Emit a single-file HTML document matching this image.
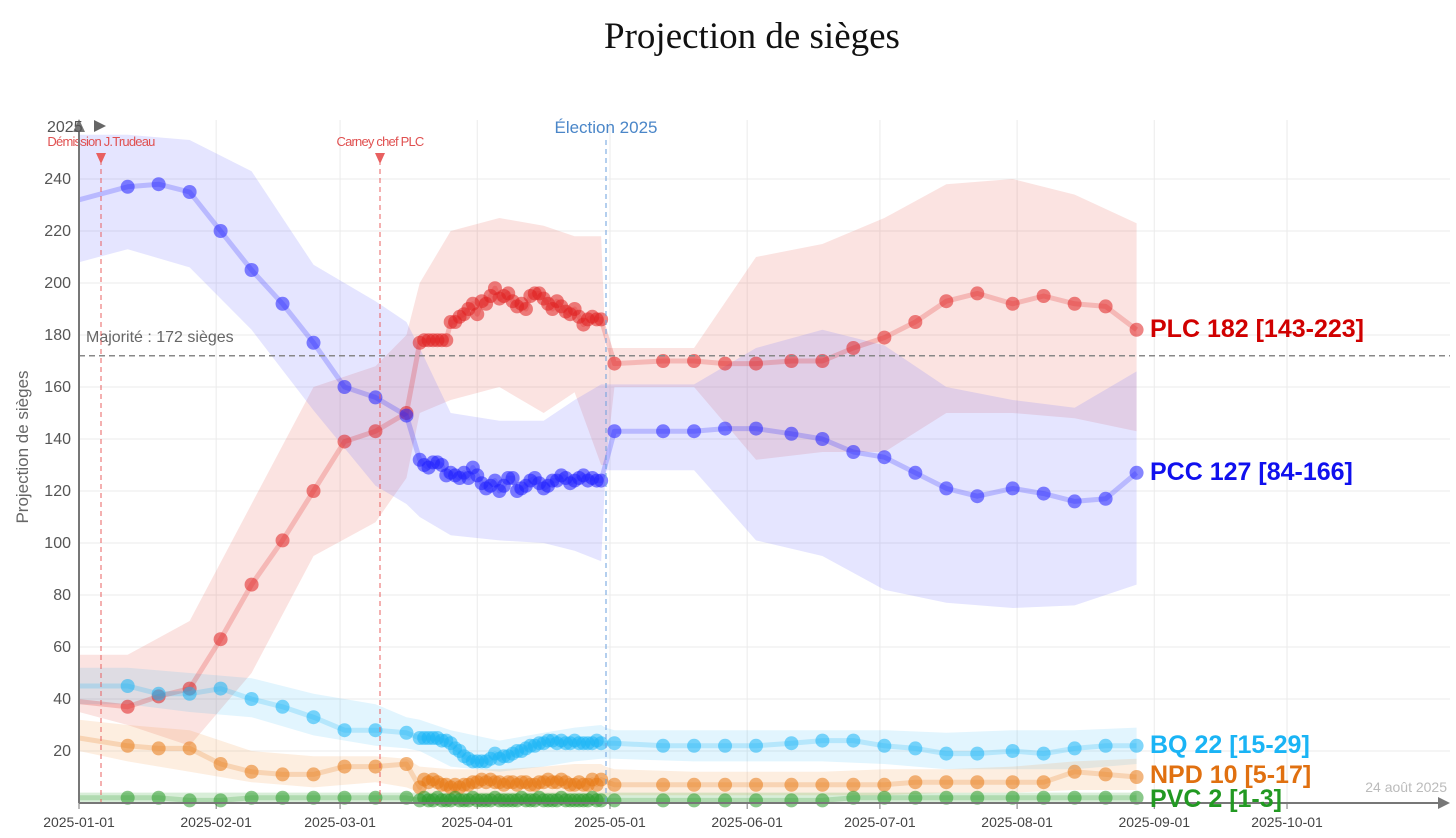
<!DOCTYPE html>
<html><head><meta charset="utf-8">
<style>
body{margin:0;background:#fff;}
svg{display:block;font-family:"Liberation Sans",Arial,sans-serif;}
</style></head>
<body>
<svg id="chart" width="1456" height="838"></svg>
<script>
const preDays=[0,11,18,25,32,39,46,53,60,67,74];
const postDays=[121,132,139,146,153,161,168,175,182,189,196,203,211,218,225,232,239];
const plcPre=[39,37,41,44,63,84,101,120,139,143,150];
const plcDense=[177,178,178,178,178,178,178,185,185,187,188,190,192,188,193,192,195,198,194,195,196,193,191,192,190,195,196,196,194,192,190,193,191,189,188,190,187,184,186,187,186,186];
const plcPost=[169,170,170,169,169,170,170,175,179,185,193,196,192,195,192,191,182];
const pccPre=[232,237,238,235,220,205,192,177,160,156,149];
const pccDense=[132,130,129,131,131,130,126,127,126,125,127,125,129,126,123,121,122,124,120,122,125,125,120,121,122,124,125,123,121,122,124,124,126,125,123,124,125,126,124,125,124,124];
const pccPost=[143,143,143,144,144,142,140,135,133,127,121,118,121,119,116,117,127];
const bqPre=[45,45,42,42,44,40,37,33,28,28,27];
const bqDense=[25,25,25,25,25,24,24,23,21,20,18,17,16,16,16,16,17,19,17,18,18,19,20,20,21,22,22,23,23,24,24,23,24,23,23,24,23,23,23,23,24,23];
const bqPost=[23,22,22,22,22,23,24,24,22,21,19,19,20,19,21,22,22];
const npdPre=[25,22,21,21,15,12,11,11,14,14,15];
const npdDense=[6,9,8,9,8,7,7,6,7,6,7,7,8,8,9,8,9,8,8,7,8,8,7,8,8,7,7,8,8,9,8,8,9,8,7,7,8,7,7,9,7,9];
const npdPost=[7,7,7,7,7,7,7,7,7,8,8,8,8,8,12,11,10];
const pvcPre=[2,2,2,1,1,2,2,2,2,2,2];
const pvcDense=[1,2,1,1,2,1,1,1,2,1,1,1,2,1,1,1,1,2,1,1,1,1,1,2,1,1,1,2,1,1,1,1,2,1,1,1,1,1,1,2,1,1];
const pvcPost=[1,1,1,1,1,1,1,2,2,2,2,2,2,2,2,2,2];
const bandDays=[0,11,25,39,53,67,74,77,84,95,105,112,118,119,121,139,153,168,182,196,211,225,239];
const plcHi=[57,57,70,115,160,168,180,200,220,225,222,218,218,175,175,175,210,215,225,238,240,234,223];
const plcLo=[35,30,22,50,95,108,125,150,155,160,150,158,130,130,160,160,132,135,135,150,150,148,143];
const pccHi=[257,257,255,243,207,193,185,175,150,147,147,155,161,161,161,161,175,182,176,160,155,152,166];
const pccLo=[208,213,206,182,151,122,115,110,103,101,100,97,93,128,128,128,101,95,82,77,75,76,84];
const bqHi=[52,52,50,48,42,38,33,32,28,24,27,29,30,29,28,28,28,28,28,27,28,28,29];
const bqLo=[38,38,35,33,26,22,21,20,14,12,14,16,17,17,17,16,16,16,15,13,13,13,15];
const npdHi=[32,30,28,20,18,18,17,14,13,13,14,15,15,14,13,12,12,12,13,13,14,16,17];
const npdLo=[20,16,12,8,6,8,6,4,3,3,3,3,3,3,3,3,3,3,3,4,4,5,5];
const pvcHi=[4,4,4,4,4,4,4,4,4,4,4,4,4,4,4,4,4,4,4,4,4,4,4];
const pvcLo=[0,0,0,0,0,0,0,0,0,0,0,0,0,0,0,0,0,0,0,0,0,0,0];
const yTicks=[20,40,60,80,100,120,140,160,180,200,220,240];
const xTickDays=[0,31,59,90,120,151,181,212,243,273];
const xTickLabels=["2025-01-01","2025-02-01","2025-03-01","2025-04-01","2025-05-01","2025-06-01","2025-07-01","2025-08-01","2025-09-01","2025-10-01"];

const X=d=>79+d*4.425;
const Y=v=>803-v*2.6;
const NS="http://www.w3.org/2000/svg";
const svg=document.getElementById('chart');
function mk(tag,attrs,parent){const e=document.createElementNS(NS,tag);for(const k in attrs)e.setAttribute(k,attrs[k]);(parent||svg).appendChild(e);return e;}
const denseDays=plcDense.map((_,i)=>77+i);
const allDays=preDays.concat(denseDays,postDays);

// grid
yTicks.forEach(v=>{
  const l=mk('line',{x1:79,x2:1450,y1:Y(v),y2:Y(v),stroke:'#ebebeb','stroke-width':1});
  
  
  const t=mk('text',{x:71,y:Y(v)+5,'text-anchor':'end','font-size':16,fill:'#555'});
  t.textContent=v;
  
  
});
xTickDays.forEach((d,i)=>{
  const l=mk('line',{x1:X(d),x2:X(d),y1:120,y2:803,stroke:'#ebebeb','stroke-width':1});
  
  
  const tk=mk('line',{x1:X(d),x2:X(d),y1:803,y2:809,stroke:'#777','stroke-width':1});
  
  
  const t=mk('text',{x:X(d),y:827,'text-anchor':'middle','font-size':14,fill:'#444'});
  t.textContent=xTickLabels[i];
  
  
});

const parties=[
 {n:'plc',c:'#e02020',band:'rgba(230,80,70,0.16)',hi:plcHi,lo:plcLo,v:plcPre.concat(plcDense,plcPost)},
 {n:'pcc',c:'#2020ff',band:'rgba(110,110,255,0.18)',hi:pccHi,lo:pccLo,v:pccPre.concat(pccDense,pccPost)},
 {n:'bq',c:'#1ab4f5',band:'rgba(30,180,245,0.13)',hi:bqHi,lo:bqLo,v:bqPre.concat(bqDense,bqPost)},
 {n:'npd',c:'#e87a15',band:'rgba(240,140,50,0.15)',hi:npdHi,lo:npdLo,v:npdPre.concat(npdDense,npdPost)},
 {n:'pvc',c:'#2a9a2a',band:'rgba(40,160,40,0.18)',hi:pvcHi,lo:pvcLo,v:pvcPre.concat(pvcDense,pvcPost)}
];
parties.forEach(p=>{
  let d='M'+bandDays.map((x,i)=>X(x)+','+Y(p.hi[i])).join('L');
  for(let i=bandDays.length-1;i>=0;i--)d+='L'+X(bandDays[i])+','+Y(p.lo[i]);
  const b=mk('path',{d:d+'Z',fill:p.band});
  
  
});
parties.forEach(p=>{
  const l=mk('polyline',{points:allDays.map((x,i)=>X(x)+','+Y(p.v[i])).join(' '),fill:'none',stroke:p.c,'stroke-width':5,'stroke-opacity':0.22,'stroke-linejoin':'round'});
  
  
  allDays.forEach((x,i)=>{
    if(x===0)return;
    const c=mk('circle',{cx:X(x),cy:Y(p.v[i]),r:7,fill:p.c,'fill-opacity':0.55});
    
    
  });
});

// majority
const mj=mk('line',{x1:79,x2:1450,y1:Y(172),y2:Y(172),stroke:'#888','stroke-width':1.5,'stroke-dasharray':'6,4'});


const mt=mk('text',{x:86,y:342,'font-size':16,fill:'#666'});mt.textContent='Majorité : 172 sièges';



// events
[[101,'Démission J.Trudeau'],[380,'Carney chef PLC']].forEach(e=>{
  const l=mk('line',{x1:e[0],x2:e[0],y1:160,y2:803,stroke:'#e86060','stroke-width':1,'stroke-dasharray':'5,4'});
  
  
  const tr=mk('path',{d:`M${e[0]-5},153L${e[0]+5},153L${e[0]},164Z`,fill:'#e86060'});
  
  
  const t=mk('text',{x:e[0],y:146,'text-anchor':'middle','font-size':13,fill:'#e05050','letter-spacing':'-0.8'});t.textContent=e[1];
  
  
});
const el=mk('line',{x1:606,x2:606,y1:140,y2:803,stroke:'#6a9fdc','stroke-width':1,'stroke-dasharray':'5,4'});


const et=mk('text',{x:606,y:133,'text-anchor':'middle','font-size':17,fill:'#4a86c8'});et.textContent='Élection 2025';



// axes
const xa=mk('line',{x1:79,x2:1440,y1:803,y2:803,stroke:'#777','stroke-width':2});


const xar=mk('path',{d:'M1438,797L1450,803L1438,809Z',fill:'#777'});


const ya=mk('line',{x1:79,x2:79,y1:130,y2:803,stroke:'#777','stroke-width':2});


const yar=mk('path',{d:'M73,132L79,119L85,132Z',fill:'#777'});


const yr=mk('text',{x:47,y:132,'font-size':16,fill:'#555'});yr.textContent='2025';


const yra=mk('path',{d:'M94,120L106,126L94,132Z',fill:'#666'});


const yt=mk('text',{x:0,y:0,'font-size':17,fill:'#666','text-anchor':'middle',transform:'translate(28,447) rotate(-90)'});yt.textContent='Projection de sièges';



const tt=mk('text',{x:752,y:48,'text-anchor':'middle','font-size':37,fill:'#111','font-family':'"Liberation Serif",serif'});tt.textContent='Projection de sièges';


const dt=mk('text',{x:1447,y:792,'text-anchor':'end','font-size':14,fill:'#bbb'});dt.textContent='24 août 2025';



[['PLC 182 [143-223]','#d00000',337,'plc-label'],['PCC 127 [84-166]','#1010ee',480,'pcc-label'],['BQ 22 [15-29]','#1ab4f5',753,'bq-label'],['NPD 10 [5-17]','#e07010',783,'npd-label'],['PVC 2 [1-3]','#229922',807,'pvc-label']].forEach(s=>{
  const t=mk('text',{x:1150,y:s[2],'font-size':25,'font-weight':'bold',fill:s[1]});t.textContent=s[0];
  
  
});
</script>
</body></html>
